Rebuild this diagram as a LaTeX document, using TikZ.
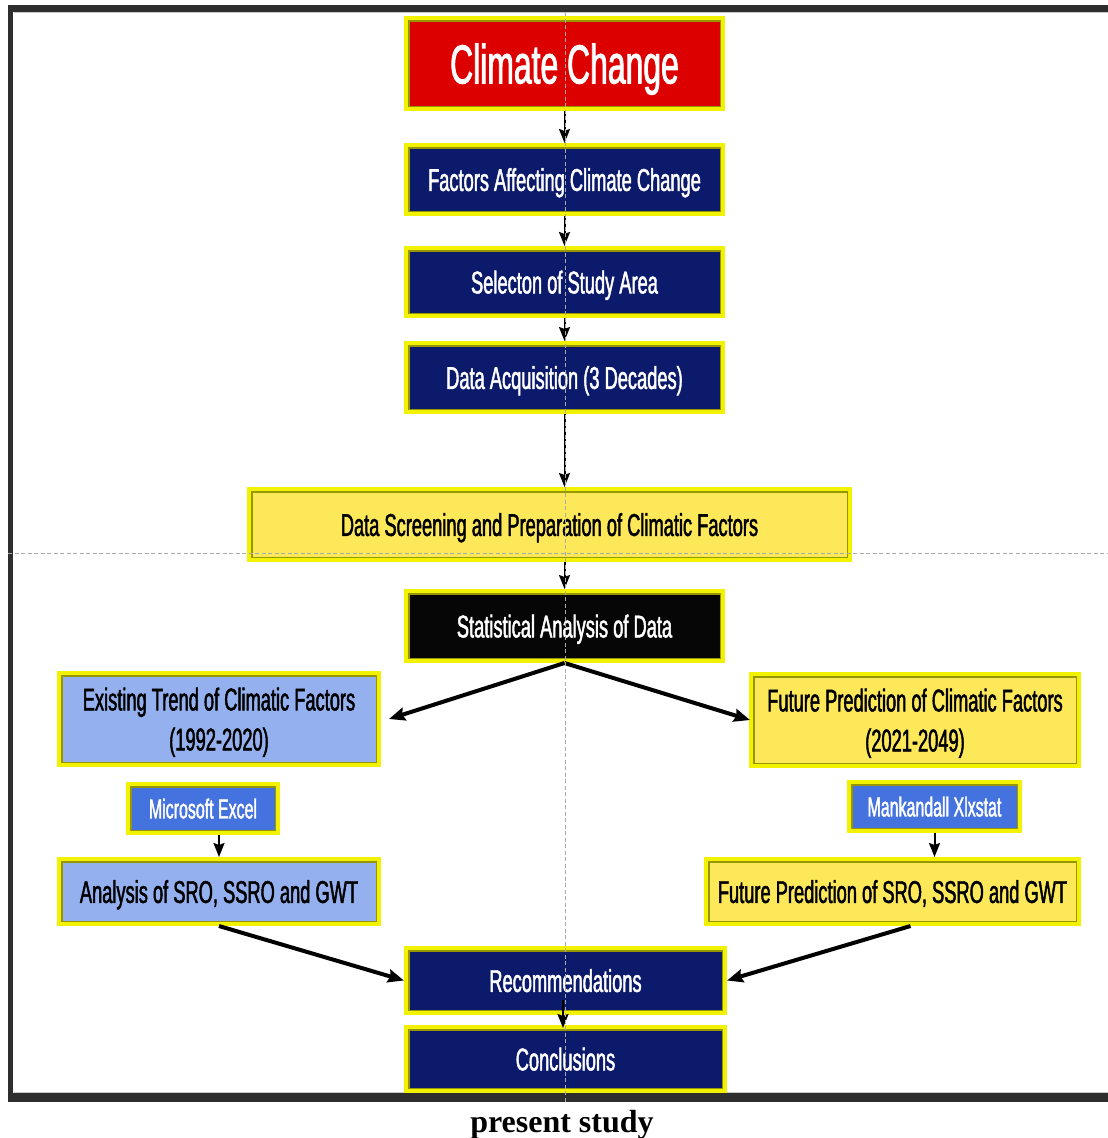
\documentclass[tikz,border=0pt]{standalone}
\usepackage{fontspec}
\newfontfamily\nar[FakeStretch=0.58,FakeBold=1.5]{Liberation Sans}
\newfontfamily\capfont{Liberation Serif}
\usetikzlibrary{arrows.meta}
\definecolor{ccred}{RGB}{221,0,0}
\definecolor{navy}{RGB}{12,26,107}
\definecolor{boxblack}{RGB}{6,6,6}
\definecolor{lightblue}{RGB}{148,176,238}
\definecolor{fillyellow}{RGB}{253,232,90}
\definecolor{toolblue}{RGB}{68,114,222}
\definecolor{bordery}{RGB}{242,242,0}
\definecolor{boxshade}{RGB}{150,150,0}
\definecolor{framegray}{RGB}{46,46,46}
\definecolor{guidegray}{RGB}{170,170,170}
\begin{document}
\begin{tikzpicture}[x=1pt,y=-1pt,
  box/.style={draw=bordery, line width=4pt, inner sep=0pt, align=center, text depth=0pt,
    font=\nar\fontsize{31.5}{40}\selectfont,
    path picture={\draw[draw=boxshade, line width=7pt] (path picture bounding box.south west) rectangle (path picture bounding box.north east);}},
  navybox/.style={box, fill=navy, text=white},
  yellowbox/.style={box, fill=fillyellow, text=black},
  bluebox/.style={box, fill=lightblue, text=black},
  toolbox/.style={box, fill=toolblue, text=white, font=\nar\fontsize{27.5}{30}\selectfont},
  arr/.style={-{Stealth[length=14pt,width=11pt,inset=2pt]}, line width=2pt, black},
  darr/.style={-{Stealth[length=16pt,width=13pt,inset=2pt]}, line width=4pt, black},
  guide/.style={draw=guidegray, line width=1pt, dash pattern=on 4pt off 2.5pt}
]
\useasboundingbox (0,0) rectangle (1108,1138);
\fill[white] (0,0) rectangle (1108,1138);
% frame
\fill[framegray] (8,5) rectangle (1108,12);
\fill[framegray] (8,5) rectangle (13,1102);
\fill[framegray] (8,1093) rectangle (1108,1102);
\draw[line width=1pt, draw={rgb,255:red,200;green,200;blue,200}] (13.5,1092.5) -- (1108,1092.5);
\draw[line width=1pt, draw={rgb,255:red,200;green,200;blue,200}] (13.5,12.5) -- (1108,12.5);

% nodes
\node[box, fill=ccred, text=white, font=\nar\fontsize{55}{60}\selectfont,
      minimum width=317pt, minimum height=91pt] (cc) at (564.5,63.5) {Climate Change};
\node[navybox, minimum width=317pt, minimum height=69pt] (fac) at (564.5,179.5) {Factors Affecting Climate Change};
\node[navybox, minimum width=317pt, minimum height=68pt] (sel) at (564.5,282) {Selecton of Study Area};
\node[navybox, minimum width=317pt, minimum height=69pt] (acq) at (564.5,377.5) {Data Acquisition (3 Decades)};
\node[yellowbox, minimum width=601pt, minimum height=71pt] (scr) at (549.5,524.5) {Data Screening and Preparation of Climatic Factors};
\node[box, fill=boxblack, text=white, minimum width=317pt, minimum height=70pt] (sta) at (564.5,626) {Statistical Analysis of Data};
\node[bluebox, minimum width=320pt, minimum height=92pt] (ext) at (219,719) {Existing Trend of Climatic Factors\\(1992-2020)};
\node[yellowbox, minimum width=328pt, minimum height=92pt] (fcf) at (915,720) {Future Prediction of Climatic Factors\\(2021-2049)};
\node[toolbox, minimum width=150pt, minimum height=49pt] (xl) at (203,808.5) {Microsoft Excel};
\node[toolbox, minimum width=171pt, minimum height=49pt] (mk) at (934.5,806.5) {Mankandall Xlxstat};
\node[bluebox, minimum width=320pt, minimum height=65pt] (ana) at (219,891.5) {Analysis of SRO, SSRO and GWT};
\node[yellowbox, minimum width=373pt, minimum height=65pt] (fsro) at (892.5,891.5) {Future Prediction of SRO, SSRO and GWT};
\node[navybox, minimum width=319pt, minimum height=65pt] (rec) at (565.5,980.5) {Recommendations};
\node[navybox, minimum width=319pt, minimum height=64pt] (con) at (565.5,1059) {Conclusions};

% caption
\node[anchor=base, font=\capfont\bfseries\fontsize{32}{36}\selectfont, inner sep=0pt] (cap) at (562,1132) {present study};

% connectors
\draw[arr] (cc.south) -- (fac.north);
\draw[arr] (fac.south) -- (sel.north);
\draw[arr] (sel.south) -- (acq.north);
\draw[arr] (acq.south) -- (acq.south |- scr.north);
\draw[arr] (scr.south -| sta.north) -- (sta.north);
\draw[darr] (sta.south) -- ([xshift=8pt]ext.east);
\draw[darr] (sta.south) -- ([xshift=1pt]fcf.west);
\draw[arr] (xl.south -| ana.north) -- (ana.north);
\draw[arr] (mk.south) -- (mk.south |- fsro.north);
\draw[darr] (ana.south) -- (rec.west);
\draw[darr] ([xshift=18pt]fsro.south) -- (rec.east);
\coordinate (recin) at (563,1000);
\draw[arr] (recin) -- ([yshift=-3pt]con.north -| recin);

% guide lines
\draw[guide] (565,12) -- (565,1102);
\draw[guide] (8,553) -- (1108,553);
\end{tikzpicture}
\end{document}
